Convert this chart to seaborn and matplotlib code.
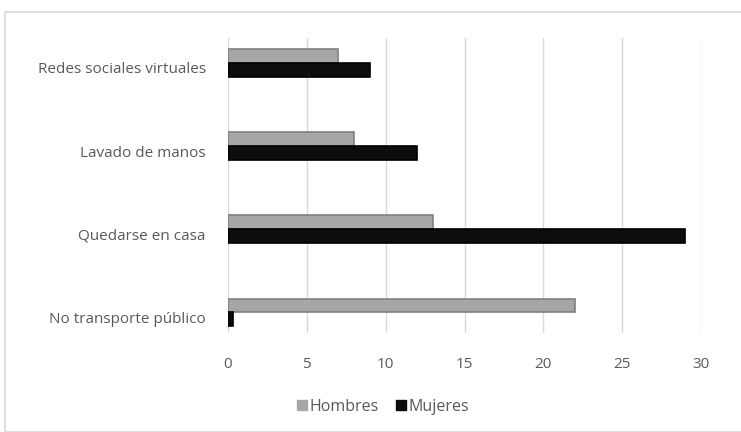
import matplotlib
matplotlib.use("Agg")
import matplotlib.pyplot as plt
import matplotlib.transforms as mtransforms
from matplotlib.patches import Rectangle, Patch
import seaborn as sns
import pandas as pd

categories = ["Redes sociales virtuales", "Lavado de manos", "Quedarse en casa", "No transporte público"]
hombres = [7, 8, 13, 22]
mujeres = [9, 12, 29, 0.3]
series_names = ["Hombres", "Mujeres"]
x_ticks = [0, 5, 10, 15, 20, 25, 30]

df = pd.DataFrame({
    "Categoria": categories * 2,
    "Valor": hombres + mujeres,
    "Sexo": [series_names[0]] * 4 + [series_names[1]] * 4,
})

sns.set_theme(style="white")
plt.rcParams["font.family"] = ["Open Sans", "DejaVu Sans"]

W, H = 741, 432
fig = plt.figure(figsize=(W / 100, H / 100), dpi=100)
left, right, top, bottom = 228, 701, 38, 333
ax = fig.add_axes([left / W, 1 - bottom / H, (right - left) / W, (bottom - top) / H])

colors = {"Hombres": "#a6a6a6", "Mujeres": "#0d0d0d"}
sns.barplot(data=df, y="Categoria", x="Valor", hue="Sexo", order=categories,
            hue_order=series_names, palette=colors, orient="h", width=0.33,
            dodge=True, ax=ax, legend=False, linewidth=1.2,
            saturation=1)
for bar, ec in zip(ax.patches, ["#808080"] * 4 + ["#000000"] * 4):
    bar.set_edgecolor(ec)

ax.set_xlim(0, 30)
ax.set_ylim(3.25, -0.30)
ax.set_xticks(x_ticks)
ax.set_xticklabels([str(v) for v in x_ticks])
ax.set_xlabel("")
ax.set_ylabel("")
ax.grid(axis="x", color="#d9d9d9", linewidth=1)
ax.set_axisbelow(True)
for s in ax.spines.values():
    s.set_visible(False)
ax.tick_params(axis="x", length=0, pad=17, labelsize=11, labelcolor="#595959")
ax.tick_params(axis="y", length=0, pad=16, labelsize=11, labelcolor="#595959")
offset = mtransforms.ScaledTranslation(0, -5 / 100, fig.dpi_scale_trans)
for lab in ax.get_yticklabels():
    lab.set_transform(lab.get_transform() + offset)

handles = [Patch(facecolor=colors[n], edgecolor=colors[n]) for n in series_names]
leg = fig.legend(handles, series_names, loc="center", bbox_to_anchor=(383 / W, 1 - 407 / H),
                 ncol=2, frameon=False, fontsize=11.5, handlelength=0.6, handleheight=0.6,
                 handletextpad=0.15, columnspacing=1.1)
for t in leg.get_texts():
    t.set_color("#595959")

fig.patches.append(Rectangle((5 / W, 0), 1, 1 - 12 / H, transform=fig.transFigure,
                             fill=False, edgecolor="#d9d9d9", linewidth=1.2))

fig.savefig("out.png", dpi=100, facecolor="white")
